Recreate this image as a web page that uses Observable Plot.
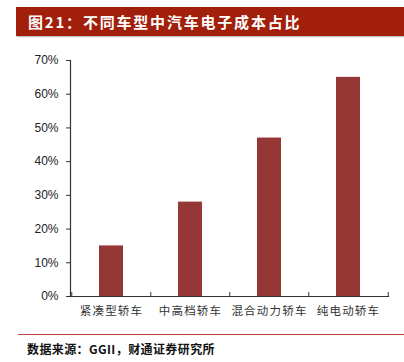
<!DOCTYPE html>
<html>
<head>
<meta charset="utf-8">
<script src="https://cdn.jsdelivr.net/npm/d3@7"></script>
<script src="https://cdn.jsdelivr.net/npm/@observablehq/plot@0.6"></script>
<style>
  html, body { margin: 0; padding: 0; background: #fff; }
  #wrap { position: relative; width: 404px; height: 362px; overflow: hidden; font-family: "Noto Sans CJK SC", sans-serif; }
  #title { position: absolute; left: 16px; top: 7px; width: 388px; height: 29px; background: #a21f0b;
           color: #fff; font-weight: bold; font-size: 15px; letter-spacing: 1.8px; line-height: 29px;
           padding-left: 12px; box-sizing: border-box; white-space: nowrap; box-shadow: 1px 1px 1px rgba(0,0,0,0.25); }
  #chart { position: absolute; left: 0; top: 0; }
  #chart g[aria-label="x-axis tick label"] text { font-size: 11.5px !important; letter-spacing: 1.2px; }
  #footline { position: absolute; left: 18px; top: 334px; width: 386px; height: 0; border-top: 1.5px solid #b8433a; }
  #source { position: absolute; left: 27px; top: 341px; font-size: 12px; font-weight: bold; color: #111; white-space: nowrap; line-height: 16px; letter-spacing: 0.4px; }
</style>
</head>
<body>
<div id="wrap">
  <div id="chart"></div>
  <div id="title">图21：不同车型中汽车电子成本占比</div>
  <div id="footline"></div>
  <div id="source">数据来源：GGII，财通证券研究所</div>
</div>
<script>
const categories = ["紧凑型轿车", "中高档轿车", "混合动力轿车", "纯电动轿车"];
const shares = [0.15, 0.28, 0.47, 0.65];
const yTicks = [0, 0.1, 0.2, 0.3, 0.4, 0.5, 0.6, 0.7];

const data = categories.map((c, i) => ({category: c, share: shares[i]}));

const W = 404, H = 362, mL = 70, mR = 16, mT = 60, mB = 66;
const step = (W - mL - mR) / categories.length;

const chart = Plot.plot({
  width: W,
  height: H,
  marginLeft: mL,
  marginRight: mR,
  marginTop: mT,
  marginBottom: mB,
  style: {background: "transparent", color: "#222"},
  x: {domain: categories, paddingInner: 0.7, paddingOuter: 0.35},
  y: {domain: [0, 0.7]},
  marks: [
    Plot.barY(data, {x: "category", y: "share", fill: "#953735"}),
    Plot.frame({anchor: "left", stroke: "#333", strokeWidth: 1.2}),
    Plot.frame({anchor: "bottom", stroke: "#333", strokeWidth: 1.2}),
    Plot.ruleX(categories, {x: d => d, dx: -step / 2, y1: 0, y2: 0.012, stroke: "#333"}),
    Plot.ruleX(categories.slice(-1), {x: d => d, dx: step / 2, y1: 0, y2: 0.012, stroke: "#333"}),
    Plot.axisY({ticks: yTicks, tickFormat: d => Math.round(d * 100) + "%", tickSize: 4, tickPadding: 8,
                fontSize: 12, fontFamily: "Liberation Sans, Arial, sans-serif", label: null, stroke: "#333"}),
    Plot.axisX({tickSize: 0, tickPadding: 10, fontSize: 11.5, label: null,
                fontFamily: "Noto Sans CJK SC, sans-serif", fill: "#333"})
  ]
});
document.getElementById("chart").appendChild(chart);
</script>
</body>
</html>
